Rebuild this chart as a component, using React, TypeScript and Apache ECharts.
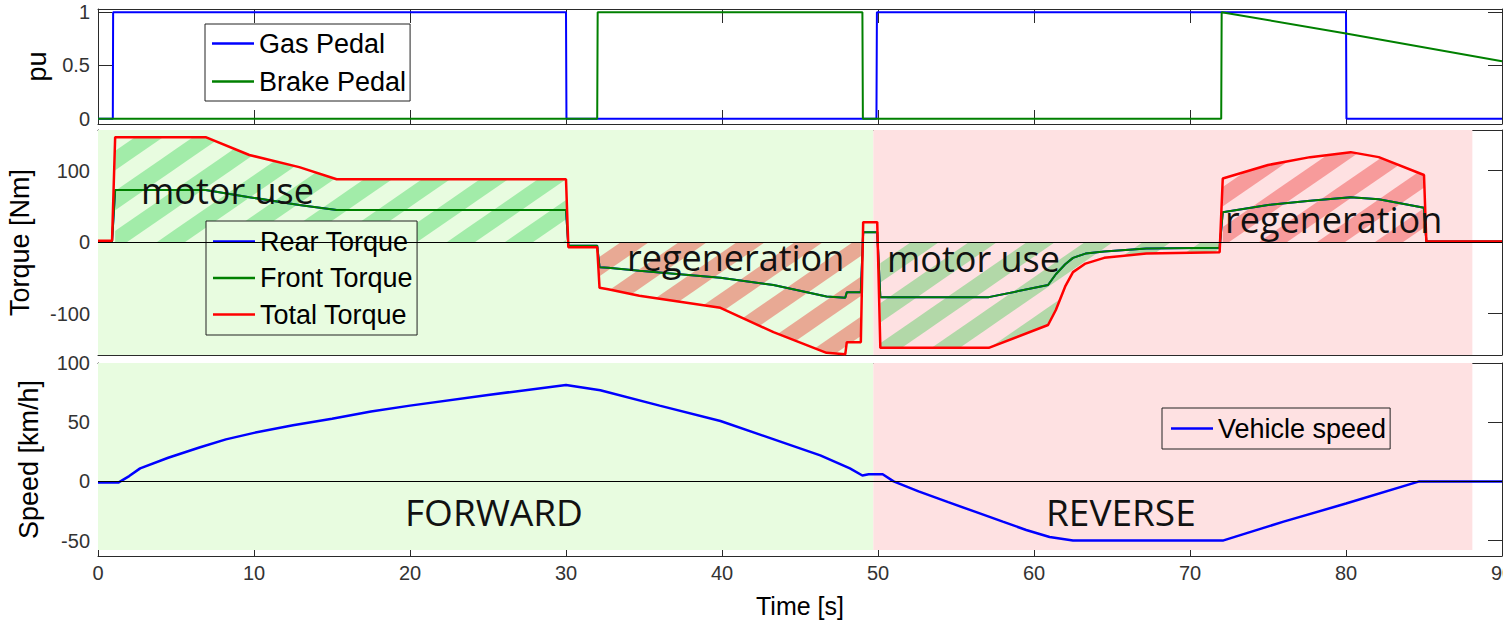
import React, { useEffect, useRef } from 'react';
import * as echarts from 'echarts';

// ---------- data ----------
const xTicks = [0, 10, 20, 30, 40, 50, 60, 70, 80, 90];

const gasTime = [0, 0.95, 0.97, 30.0, 30.03, 49.9, 49.93, 80.0, 80.03, 90];
const gasPedal = [0, 0, 1, 1, 0, 0, 1, 1, 0, 0];

const brakeTime = [0, 32.0, 32.03, 49.0, 49.03, 72.0, 72.03, 80, 90];
const brakePedal = [0, 0, 1, 1, 0, 0, 1, 0.8, 0.54];

const torqueTime = [0, 0.9, 1.1, 6.9, 9.7, 12.9, 15.3, 30.0, 30.15, 32.0, 32.15, 32.7, 34.7, 39.9, 43.3, 46.7, 47.9, 48.0, 48.9, 49.05, 49.95, 50.15, 57.1, 60.9, 61.4, 62.0, 62.5, 63.3, 64.5, 67.2, 71.9, 72.1, 75.0, 77.7, 80.3, 82.1, 85.0, 85.15, 90];
const totalTorque = [2, 2, 147, 147, 122, 105, 88, 88, -7, -7, -64, -66, -75, -92, -126, -155, -157, -140, -140, 28, 28, -148, -148, -116, -95, -62, -42, -30, -22, -16, -14, 89, 108, 119, 126, 119, 94, 1, 1];
const frontTorque = [1, 1, 73, 73, 63, 52, 45, 45, -5, -5, -35, -36, -40, -50, -60, -76, -78, -70, -70, 14, 14, -77, -77, -60, -45, -31, -22, -16, -13, -9, -8, 42, 52, 58, 63, 60, 48, 1, 1];
const rearTorque = [1, 1, 73, 73, 63, 52, 45, 45, -5, -5, -35, -36, -40, -50, -60, -76, -78, -70, -70, 14, 14, -77, -77, -60, -45, -31, -22, -16, -13, -9, -8, 42, 52, 58, 63, 60, 48, 1, 1];

const speedTime = [0, 1.3, 2.0, 2.7, 4.5, 6.5, 8.2, 10, 12.5, 15, 17.5, 20, 25, 30, 32.2, 36, 39.9, 43, 46.3, 48.2, 49.0, 49.4, 50.3, 51.0, 52.6, 54.5, 56.3, 58, 59.5, 61, 62.5, 72.1, 76, 80, 84.7, 90];
const vehicleSpeed = [-1, -1, 4.5, 11, 20, 28.6, 35.5, 41, 47.5, 53, 59, 64, 73, 81.5, 77, 64, 51, 37, 22, 11, 5, 6, 6, 0, -8.4, -17.5, -26, -34, -41, -47, -50, -50, -34, -18.7, 0, 0];

const forwardRegion = [0, 49.7];
const reverseRegion = [49.7, 88.1];

// time spans of the hatched zones: motor use, regeneration, motor use, regeneration
const hatchRanges = [[1.1, 30.0], [32.15, 48.9], [50.15, 71.9], [72.1, 85.0]];

const yRanges = [[-0.05, 1.03], [-158, 157], [-63, 100]];
const yTickValues = [[0, 0.5, 1], [-100, 0, 100], [-50, 0, 50, 100]];
const yNames = ['pu', 'Torque [Nm]', 'Speed [km/h]'];

// ---------- helpers ----------
const zip = (t: number[], v: number[]) => t.map((x, i) => [x, v[i]]);

function stripePattern(color: string) {
  const W = 58, H = 40, w = 28;
  const c = document.createElement('canvas');
  c.width = W;
  c.height = H;
  const ctx = c.getContext('2d')!;
  ctx.fillStyle = color;
  for (const off of [-W, 0, W]) {
    ctx.beginPath();
    ctx.moveTo(off - w / 2, H);
    ctx.lineTo(off + w / 2, H);
    ctx.lineTo(off + W + w / 2, 0);
    ctx.lineTo(off + W - w / 2, 0);
    ctx.closePath();
    ctx.fill();
  }
  return { image: c, repeat: 'repeat', imageWidth: W, imageHeight: H };
}

const AXIS_COLOR = '#2a2a2a';
const LABEL_FONT = 'Liberation Sans, Arial, sans-serif';
const ANNOT_FONT = 'Open Sans, Noto Sans, sans-serif';

export default function App() {
  const ref = useRef<HTMLDivElement>(null);

  useEffect(() => {
    const chart = echarts.init(ref.current!, null, { renderer: 'svg' });

    const grids = [
      { left: 98, top: 9, width: 1404, height: 115, containLabel: false, outerBoundsMode: 'none' },
      { left: 98, top: 130, width: 1404, height: 225, containLabel: false, outerBoundsMode: 'none' },
      { left: 98, top: 363, width: 1404, height: 193, containLabel: false, outerBoundsMode: 'none' },
    ];

    const xAxes: any[] = [];
    [0, 1, 2].forEach((g) => {
      xAxes.push({
        type: 'value', gridIndex: g, min: xTicks[0], max: xTicks[xTicks.length - 1], interval: 10,
        position: 'bottom',
        axisLine: { show: true, onZero: false, lineStyle: { color: AXIS_COLOR, width: 1 } },
        axisTick: { show: true, inside: true, length: 14, lineStyle: { color: AXIS_COLOR } },
        axisLabel: {
          show: g === 2, fontSize: 20, color: '#333', fontFamily: LABEL_FONT, margin: 7,
          hideOverlap: false,
        },
        splitLine: { show: false },
        name: g === 2 ? 'Time [s]' : '',
        nameLocation: 'middle', nameGap: 37,
        nameTextStyle: { fontSize: 25, color: '#000', fontFamily: LABEL_FONT },
      });
    });
    [0, 1, 2].forEach((g) => {
      xAxes.push({
        type: 'value', gridIndex: g, min: xTicks[0], max: xTicks[xTicks.length - 1], interval: 10,
        position: 'top',
        axisLine: { show: true, onZero: false, lineStyle: { color: AXIS_COLOR, width: 1 } },
        axisTick: { show: true, inside: true, length: 14, lineStyle: { color: AXIS_COLOR } },
        axisLabel: { show: false },
        splitLine: { show: false },
      });
    });

    const nameGaps = [48, 65, 56];
    const yAxes: any[] = [];
    [0, 1, 2].forEach((g) => {
      yAxes.push({
        type: 'value', gridIndex: g, min: yRanges[g][0], max: yRanges[g][1], position: 'left',
        axisLine: { show: true, onZero: false, lineStyle: { color: AXIS_COLOR, width: 1 } },
        axisTick: { show: true, inside: true, length: 14, lineStyle: { color: AXIS_COLOR }, customValues: yTickValues[g] },
        axisLabel: { show: true, fontSize: 20, color: '#333', fontFamily: LABEL_FONT, margin: 8, customValues: yTickValues[g] },
        splitLine: { show: false },
        name: yNames[g], nameLocation: 'middle', nameGap: nameGaps[g],
        nameTextStyle: { fontSize: 27, color: '#000', fontFamily: LABEL_FONT },
      });
    });
    [0, 1, 2].forEach((g) => {
      yAxes.push({
        type: 'value', gridIndex: g, min: yRanges[g][0], max: yRanges[g][1], position: 'right',
        axisLine: { show: true, onZero: false, lineStyle: { color: AXIS_COLOR, width: 1 } },
        axisTick: { show: true, inside: true, length: 14, lineStyle: { color: AXIS_COLOR }, customValues: yTickValues[g] },
        axisLabel: { show: false },
        splitLine: { show: false },
      });
    });

    const totalPairs = zip(torqueTime, totalTorque);
    const hatchColors = ['#a2eca9', '#e8a994', '#b2d8a8', '#f79b9b'];
    const hatchSeries = hatchRanges.map((r, i) => ({
      type: 'line', xAxisIndex: 1, yAxisIndex: 1, z: 1, silent: true,
      symbol: 'none', lineStyle: { width: 0, opacity: 0 },
      areaStyle: { color: stripePattern(hatchColors[i]), opacity: 1 },
      data: totalPairs.filter(([t]) => t >= r[0] - 1e-9 && t <= r[1] + 1e-9),
    }));

    const bgSeries = (g: number, yTop: number, yBottom: number) => ({
      type: 'line', xAxisIndex: g, yAxisIndex: g, z: 0, silent: true, data: [],
      markArea: {
        silent: true,
        label: { show: false },
        data: [
          [
            { xAxis: forwardRegion[0], yAxis: yTop, itemStyle: { color: '#e8fce0' } },
            { xAxis: forwardRegion[1], yAxis: yBottom },
          ],
          [
            { xAxis: reverseRegion[0], yAxis: yTop, itemStyle: { color: '#fee1e2' } },
            { xAxis: reverseRegion[1], yAxis: yBottom },
          ],
        ],
      },
    });

    const zeroLine = {
      silent: true, symbol: ['none', 'none'], label: { show: false },
      lineStyle: { color: '#000', width: 1, type: 'solid' },
      data: [{ yAxis: 0 }],
    };

    const lineSeries = (name: string, g: number, data: any[], color: string, width: number, extra: any = {}) => ({
      name, type: 'line', xAxisIndex: g, yAxisIndex: g, z: 3, symbol: 'none',
      lineStyle: { color, width }, itemStyle: { color }, data, ...extra,
    });

    const annotations = [
      { text: 'motor use', x: 141, y: 190, size: 36 },
      { text: 'regeneration', x: 627, y: 257, size: 36 },
      { text: 'motor use', x: 887, y: 258, size: 36 },
      { text: 'regeneration', x: 1225, y: 219, size: 36 },
      { text: 'FORWARD', x: 405, y: 511, size: 37 },
      { text: 'REVERSE', x: 1046, y: 511, size: 37 },
    ];

    const legendBase = {
      orient: 'vertical', itemWidth: 42, itemHeight: 2.5, icon: 'rect', selectedMode: false,
      borderColor: '#222', borderWidth: 1,
      textStyle: { fontSize: 27, color: '#000', fontFamily: LABEL_FONT },
    };

    const option: any = {
      animation: false,
      backgroundColor: '#fff',
      grid: grids,
      xAxis: xAxes,
      yAxis: yAxes,
      legend: [
        { ...legendBase, data: ['Gas Pedal', 'Brake Pedal'], left: 205, top: 24, itemGap: 11, padding: [6, 4, 6, 7], backgroundColor: '#fff' },
        { ...legendBase, data: ['Rear Torque', 'Front Torque', 'Total Torque'], left: 206, top: 221, itemGap: 9.5, padding: [7, 4, 7, 7], backgroundColor: '#e8fce0' },
        { ...legendBase, data: ['Vehicle speed'], left: 1162, top: 408, itemGap: 10, padding: [7, 4, 7, 9], backgroundColor: '#fee1e2' },
      ],
      graphic: annotations.map((a) => ({
        type: 'text', x: a.x, y: a.y, z: 100, silent: true,
        style: { text: a.text, fill: '#111', font: `${a.size}px ${ANNOT_FONT}`, align: 'left', verticalAlign: 'middle' },
      })),
      series: [
        bgSeries(1, yRanges[1][1], yRanges[1][0]),
        bgSeries(2, yRanges[2][1], -58),
        ...hatchSeries,
        lineSeries('Gas Pedal', 0, zip(gasTime, gasPedal), '#0000ff', 2),
        lineSeries('Brake Pedal', 0, zip(brakeTime, brakePedal), '#008000', 2),
        lineSeries('Rear Torque', 1, zip(torqueTime, rearTorque), '#0000ff', 2, { markLine: zeroLine }),
        lineSeries('Front Torque', 1, zip(torqueTime, frontTorque), '#008000', 2),
        lineSeries('Total Torque', 1, totalPairs, '#ff0000', 2.5),
        lineSeries('Vehicle speed', 2, zip(speedTime, vehicleSpeed), '#0000ff', 2.5, { markLine: zeroLine }),
      ],
    };

    chart.setOption(option);
    return () => chart.dispose();
  }, []);

  return (
    <div
      ref={ref}
      style={{ position: 'absolute', left: 0, top: 0, width: 1503, height: 622, background: '#fff' }}
    />
  );
}
